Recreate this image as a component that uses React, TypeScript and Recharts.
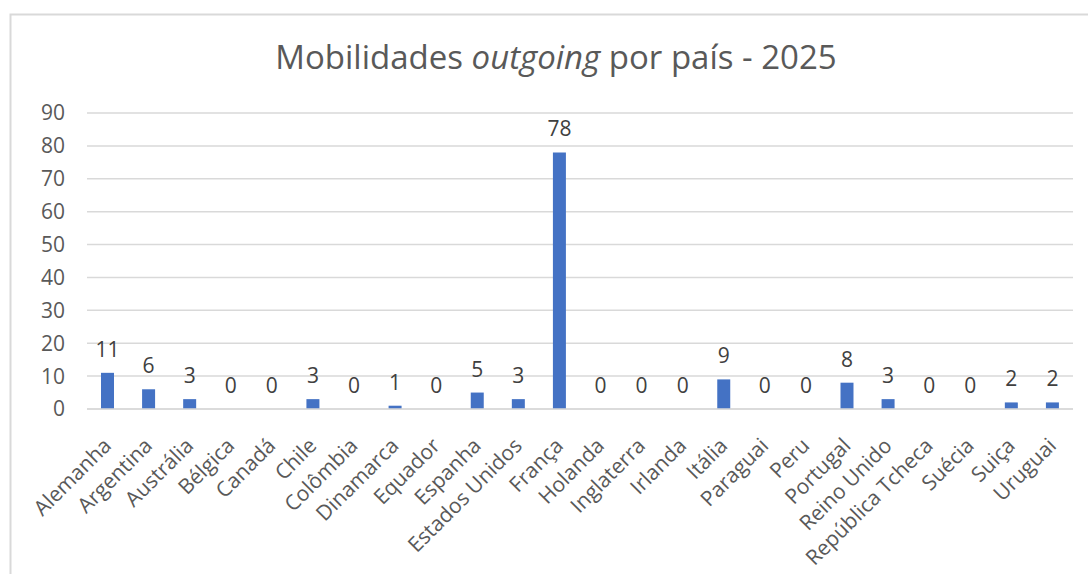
import React from 'react';
import { ComposedChart, Bar, Line, XAxis, YAxis, CartesianGrid, LabelList } from 'recharts';

const countries = [
  'Alemanha', 'Argentina', 'Austrália', 'Bélgica', 'Canadá', 'Chile', 'Colômbia', 'Dinamarca',
  'Equador', 'Espanha', 'Estados Unidos', 'França', 'Holanda', 'Inglaterra', 'Irlanda', 'Itália',
  'Paraguai', 'Peru', 'Portugal', 'Reino Unido', 'República Tcheca', 'Suécia', 'Suiça', 'Uruguai',
];
const mobilities = [11, 6, 3, 0, 0, 3, 0, 1, 0, 5, 3, 78, 0, 0, 0, 9, 0, 0, 8, 3, 0, 0, 2, 2];
const yTicks = [0, 10, 20, 30, 40, 50, 60, 70, 80, 90];

const data = countries.map((country, i) => ({ country, value: mobilities[i] }));

const FONT = '"Open Sans", "Segoe UI", sans-serif';
const TEXT = '#595959';

const XTick = (props: any) => {
  const { x, y, payload } = props;
  return (
    <g transform={`translate(${x + 5},${y + 30})`}>
      <text textAnchor="end" transform="rotate(-45)" fill={TEXT} fontSize={21} fontFamily={FONT}>
        {payload.value}
      </text>
    </g>
  );
};

export default function App() {
  return (
    <div style={{ position: 'absolute', left: 0, top: 0, width: 1088, height: 574, overflow: 'hidden', background: '#fff' }}>
      <svg width={1088} height={574} style={{ position: 'absolute', left: 0, top: 0 }}>
        <rect x={10.5} y={14.5} width={1100} height={600} fill="none" stroke="#d9d9d9" strokeWidth={2} />
        <text x={556} y={69} textAnchor="middle" fill={TEXT} fontSize={33} fontFamily={FONT}>
          Mobilidades <tspan fontStyle="italic">outgoing</tspan> por país - 2025
        </text>
      </svg>
      <div style={{ position: 'absolute', left: 0, top: 0 }}>
        <ComposedChart width={1088} height={574} data={data} margin={{ top: 113, right: 15, left: 0, bottom: 0 }}>
          <CartesianGrid horizontal vertical={false} stroke="#d9d9d9" strokeWidth={1.5} />
          <XAxis
            dataKey="country"
            interval={0}
            height={165}
            tickLine={false}
            axisLine={{ stroke: '#d9d9d9', strokeWidth: 1.5 }}
            tick={<XTick />}
          />
          <YAxis
            width={87}
            domain={[0, 90]}
            ticks={yTicks}
            axisLine={false}
            tickLine={false}
            tickMargin={16}
            tick={{ fill: TEXT, fontSize: 21, fontFamily: FONT }}
          />
          <Bar dataKey="value" fill="#4472C4" barSize={13} isAnimationActive={false} />
          <Line dataKey="value" stroke="none" dot={false} activeDot={false} legendType="none" isAnimationActive={false}>
            <LabelList dataKey="value" position="top" offset={16} fill="#404040" fontSize={21} fontFamily={FONT} />
          </Line>
        </ComposedChart>
      </div>
    </div>
  );
}
